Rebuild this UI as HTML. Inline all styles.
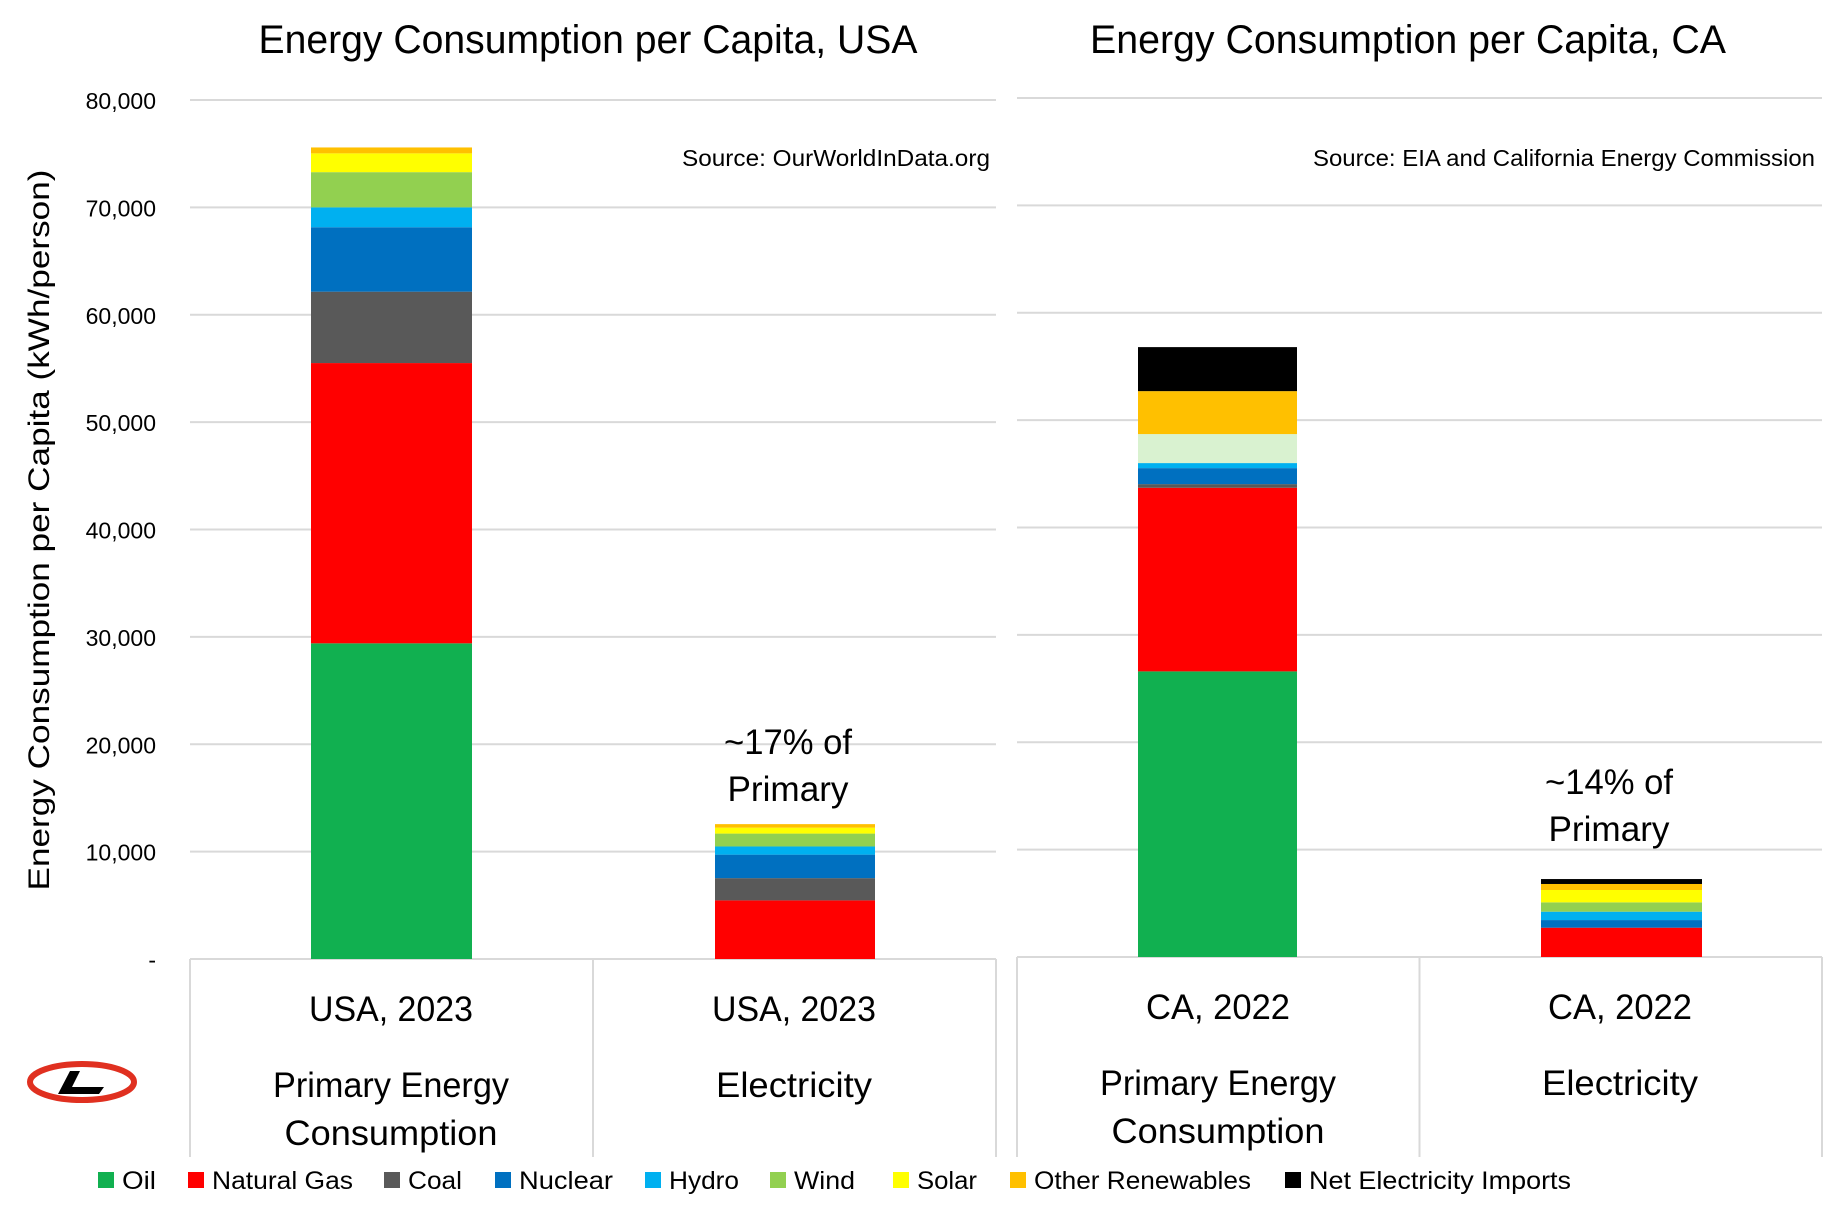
<!DOCTYPE html>
<html><head><meta charset="utf-8"><style>
html,body{margin:0;padding:0;background:#fff;}
svg{display:block;font-family:"Liberation Sans",sans-serif;}
</style></head><body>
<svg id="chart" width="1838" height="1218" viewBox="0 0 1838 1218" xmlns="http://www.w3.org/2000/svg">
<g id="grid"></g>
<g id="bars"></g>
<g id="labels"></g>
</svg>
<script>
const seriesNames = ["Oil","Natural Gas","Coal","Nuclear","Hydro","Wind","Solar","Other Renewables","Net Electricity Imports"];
const seriesColors = ["#11b050","#ff0000","#595959","#0070c0","#00b0f0","#92d050","#ffff00","#ffc000","#000000"];
const usaPrimary = [29400, 26100, 6650, 6000, 1850, 3280, 1750, 550, 0];
const usaElectricity = [0, 5460, 2070, 2190, 760, 1200, 550, 330, 0];
const caPrimary = [26600, 17100, 340, 1490, 470, 2700, 0, 4000, 4100];
const caElectricity = [0, 2730, 0, 710, 780, 870, 1150, 560, 460];
const yTicks = [0,10000,20000,30000,40000,50000,60000,70000,80000];
const yTickLabels = ["-","10,000","20,000","30,000","40,000","50,000","60,000","70,000","80,000"];

const NS="http://www.w3.org/2000/svg";
function mk(tag, attrs, parent, text){
  const e=document.createElementNS(NS,tag);
  for(const k in attrs) e.setAttribute(k,attrs[k]);
  if(text!==undefined) e.textContent=text;
  parent.appendChild(e); return e;
}
const grid=document.getElementById('grid'), barsG=document.getElementById('bars'), lab=document.getElementById('labels');
const panels=[
  {x0:190,x1:996,top:100,bot:959},
  {x0:1017,x1:1822,top:98,bot:957}
];
function yScale(p,v){return p.bot-(p.bot-p.top)*v/80000;}

panels.forEach((p,pi)=>{
  yTicks.forEach((t,i)=>{
    const y=yScale(p,t);
    const l=mk('line',{x1:p.x0,x2:p.x1,y1:y,y2:y,stroke:'#d9d9d9','stroke-width':2},grid);
    
    
  });
  const mid=(p.x0+p.x1)/2;
  [p.x0,mid,p.x1].forEach(x=>{
    const l=mk('line',{x1:x,x2:x,y1:p.bot,y2:1157,stroke:'#d9d9d9','stroke-width':2},grid);
    
    
  });
});
yTicks.forEach((t,i)=>{
  const y=yScale(panels[0],t);
  const tx=mk('text',{x:156,y:y+9,'text-anchor':'end','font-size':23,fill:'#000'},lab,yTickLabels[i]);
  
  
});

const barDefs=[
  {p:0,x:311,w:161,vals:usaPrimary,name:'bar-usa-primary'},
  {p:0,x:715,w:160,vals:usaElectricity,name:'bar-usa-electricity'},
  {p:1,x:1138,w:159,vals:caPrimary,name:'bar-ca-primary',override:{5:'#d9f2d0'}},
  {p:1,x:1541,w:161,vals:caElectricity,name:'bar-ca-electricity'}
];
barDefs.forEach(b=>{
  const p=panels[b.p]; let cum=0;
  const g=mk('g',{},barsG);
  
  
  b.vals.forEach((v,i)=>{
    if(v<=0) return;
    const y1=yScale(p,cum+v), y0=yScale(p,cum);
    const color=(b.override&&b.override[i])||seriesColors[i];
    const r=mk('rect',{x:b.x,y:y1,width:b.w,height:y0-y1,fill:color},g);
    
    
    cum+=v;
  });
});

function txt(s,x,y,size,anchor,len,name){
  const a={x:x,y:y,'font-size':size,'text-anchor':anchor,fill:'#000'};
  if(len){a.textLength=len;a.lengthAdjust='spacingAndGlyphs';}
  const t=mk('text',a,lab,s);
  
  
  return t;
}
txt("Energy Consumption per Capita, USA",588,53,40,'middle',659,'chart-title-usa');
txt("Energy Consumption per Capita, CA",1408,53,40,'middle',636,'chart-title-ca');
txt("Source: OurWorldInData.org",990,166,23,'end',308,'source-usa');
txt("Source: EIA and California Energy Commission",1815,166,23,'end',502,'source-ca');
txt("~17% of",788,754,35,'middle',128,'annotation-usa-line1');
txt("Primary",788,801,35,'middle',121,'annotation-usa-line2');
txt("~14% of",1609,794,35,'middle',128,'annotation-ca-line1');
txt("Primary",1609,841,35,'middle',121,'annotation-ca-line2');
txt("USA, 2023",391,1021,35,'middle',164,'category-usa-primary-year');
txt("Primary Energy",391,1097,35,'middle',236,'category-usa-primary-label');
txt("Consumption",391,1145,35,'middle',213,'category-usa-primary-label2');
txt("USA, 2023",794,1021,35,'middle',164,'category-usa-electricity-year');
txt("Electricity",794,1097,35,'middle',156,'category-usa-electricity-label');
txt("CA, 2022",1218,1019,35,'middle',144,'category-ca-primary-year');
txt("Primary Energy",1218,1095,35,'middle',236,'category-ca-primary-label');
txt("Consumption",1218,1143,35,'middle',213,'category-ca-primary-label2');
txt("CA, 2022",1620,1019,35,'middle',144,'category-ca-electricity-year');
txt("Electricity",1620,1095,35,'middle',156,'category-ca-electricity-label');

const yt=mk('text',{x:0,y:0,'font-size':30,'text-anchor':'middle',fill:'#000',transform:'translate(49,530) rotate(-90)',textLength:721,lengthAdjust:'spacingAndGlyphs'},lab,"Energy Consumption per Capita (kWh/person)");



const legendX=[98,188,384,495,645,770,893,1010,1285];
const legendW=[34,141,54,94,70,61,60,217,262];
seriesNames.forEach((n,i)=>{
  const g=mk('g',{},lab);
  
  
  mk('rect',{x:legendX[i],y:1172,width:16,height:16,fill:seriesColors[i]},g);
  mk('text',{x:legendX[i]+24,y:1189,'font-size':25,fill:'#000',textLength:legendW[i],lengthAdjust:'spacingAndGlyphs'},g,n);
});

const logo=mk('g',{},lab);


mk('ellipse',{cx:82,cy:1082,rx:52,ry:18,fill:'none',stroke:'#e03020','stroke-width':6},logo);
mk('path',{d:'M70 1071 L80 1071 L72 1087 L104 1087 L99 1094 L58 1094 Z',fill:'#000'},logo);
</script>
</body></html>
